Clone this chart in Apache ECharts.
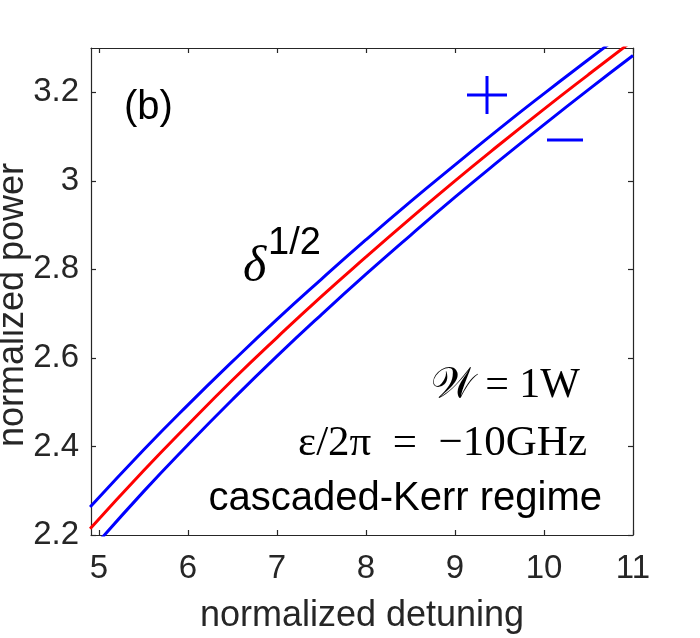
<!DOCTYPE html>
<html>
<head>
<meta charset="utf-8">
<script src="https://cdn.jsdelivr.net/npm/echarts@6/dist/echarts.min.js"></script>
<style>
  html, body { margin: 0; padding: 0; background: #fff; }
  #chart { width: 700px; height: 638px; }
</style>
</head>
<body>
<div id="chart"></div>
<script>
// values
var detuning   = [4.9, 5.5, 6, 6.5, 7, 7.5, 8, 8.5, 9, 9.5, 10, 10.5, 11];
var powerMid   = [2.214, 2.345, 2.449, 2.550, 2.646, 2.739, 2.828, 2.915, 3.000, 3.082, 3.162, 3.240, 3.317];
var powerPlus  = [2.263, 2.392, 2.494, 2.592, 2.687, 2.778, 2.867, 2.953, 3.036, 3.118, 3.197, 3.274, 3.350];
var powerMinus = [2.163, 2.298, 2.404, 2.506, 2.604, 2.698, 2.789, 2.877, 2.963, 3.046, 3.127, 3.206, 3.283];
var xTicks = [5, 6, 7, 8, 9, 10, 11];
var yTicks = [2.2, 2.4, 2.6, 2.8, 3.0, 3.2];

var axisColor = '#262626';
var sans = 'Liberation Sans, Arial, sans-serif';
var serif = 'Liberation Serif, DejaVu Serif, serif';

function pairs(xs, ys) {
  return xs.map(function (x, i) { return [x, ys[i]]; });
}

function frameAxis(pos, ticks, extra) {
  var a = {
    type: 'value',
    position: pos,
    axisLine: { show: true, onZero: false, lineStyle: { color: axisColor, width: 1.2 } },
    axisTick: { show: true, inside: true, length: 5, customValues: ticks, lineStyle: { color: axisColor, width: 1.2 } },
    axisLabel: { show: false },
    splitLine: { show: false }
  };
  return Object.assign(a, extra);
}

var chart = echarts.init(document.getElementById('chart'));

var option = {
  animation: false,
  grid: { left: 91, right: 67, top: 48, bottom: 103, outerBoundsMode: 'none', containLabel: false },
  xAxis: [
    frameAxis('bottom', xTicks, {
      min: 4.91, max: 11,
      name: 'normalized detuning',
      nameLocation: 'middle',
      nameGap: 63,
      nameTextStyle: { color: axisColor, fontFamily: sans, fontSize: 36 },
      axisLabel: { show: true, customValues: xTicks, margin: 17, color: axisColor, fontFamily: sans, fontSize: 33 }
    }),
    frameAxis('top', xTicks, { min: 4.91, max: 11 })
  ],
  yAxis: [
    frameAxis('left', yTicks, {
      min: 2.2, max: 3.3,
      axisLabel: {
        show: true, customValues: yTicks, margin: 12, color: axisColor, fontFamily: sans, fontSize: 33,
        formatter: function (v) { return String(+v.toFixed(1)); }
      }
    }),
    frameAxis('right', yTicks, { min: 2.2, max: 3.3 })
  ],
  series: [
    {
      type: 'line', name: '+', data: pairs(detuning, powerPlus), smooth: true,
      showSymbol: false, lineStyle: { color: '#0000ff', width: 3 }, clip: true
    },
    {
      type: 'line', name: 'mid', data: pairs(detuning, powerMid), smooth: true,
      showSymbol: false, lineStyle: { color: '#ff0000', width: 3 }, clip: true
    },
    {
      type: 'line', name: '-', data: pairs(detuning, powerMinus), smooth: true,
      showSymbol: false, lineStyle: { color: '#0000ff', width: 3 }, clip: true
    }
  ],
  graphic: [
    // y axis title (sits a little below the axis middle, as in the original)
    { type: 'text', x: 13, y: 305, rotation: Math.PI / 2,
      style: { text: 'normalized power', fill: axisColor, font: '36px ' + sans, align: 'center', verticalAlign: 'middle' } },
    { type: 'text', left: 124, top: 88, style: { text: '(b)', fill: '#000', font: '40px ' + sans } },
    { type: 'text', x: 243, y: 268, style: { text: 'δ', fill: '#000', font: 'italic 50px ' + serif, verticalAlign: 'middle' } },
    { type: 'text', x: 268, y: 244, style: { text: '1/2', fill: '#000', font: '38px ' + sans, verticalAlign: 'middle' } },
    // + and - markers
    { type: 'line', shape: { x1: 467, y1: 95, x2: 507, y2: 95 }, style: { stroke: '#0000ff', lineWidth: 3 } },
    { type: 'line', shape: { x1: 487, y1: 76, x2: 487, y2: 114 }, style: { stroke: '#0000ff', lineWidth: 3 } },
    { type: 'line', shape: { x1: 547, y1: 140, x2: 583, y2: 140 }, style: { stroke: '#0000ff', lineWidth: 3 } },
    { type: 'text', x: 580, y: 386, style: { text: '𝒲 = 1W', fill: '#000', font: '42px ' + serif, align: 'right', verticalAlign: 'middle' } },
    { type: 'text', x: 587, y: 444, style: { text: 'ε/2π\u2002=\u2002−10GHz', fill: '#000', font: '43px ' + serif, align: 'right', verticalAlign: 'middle' } },
    { type: 'text', x: 602, y: 499, style: { text: 'cascaded-Kerr regime', fill: '#000', font: '40px ' + sans, align: 'right', verticalAlign: 'middle' } }
  ]
};

chart.setOption(option);
</script>
</body>
</html>
